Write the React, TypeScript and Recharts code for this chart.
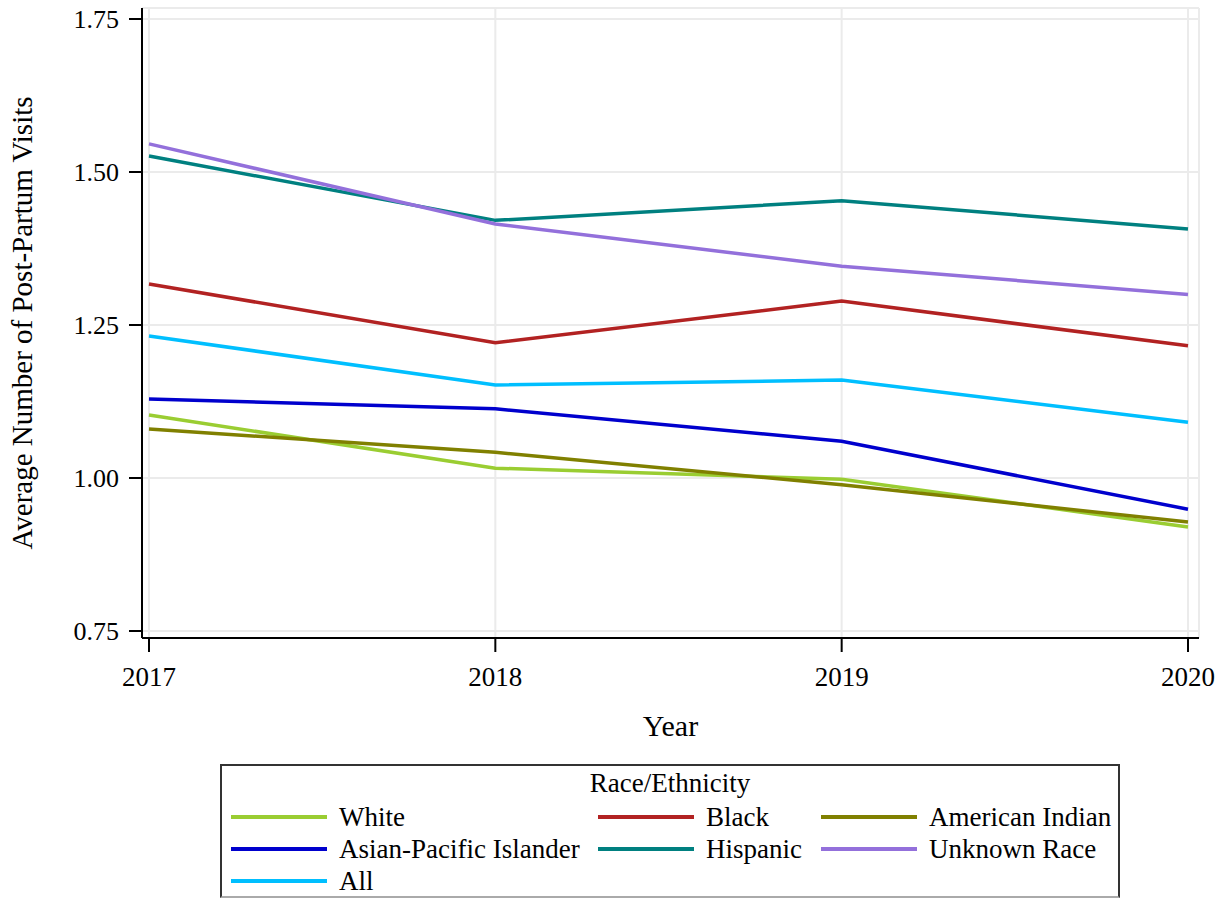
import React from "react";
import { LineChart, Line, XAxis, YAxis, CartesianGrid, Legend } from "recharts";

const years = ["2017", "2018", "2019", "2020"];
const white = [1.103, 1.016, 0.998, 0.92];
const black = [1.317, 1.221, 1.289, 1.216];
const americanIndian = [1.08, 1.042, 0.989, 0.928];
const asianPacific = [1.129, 1.113, 1.06, 0.949];
const hispanic = [1.526, 1.421, 1.453, 1.407];
const unknownRace = [1.546, 1.415, 1.346, 1.3];
const allRaces = [1.232, 1.152, 1.16, 1.091];
const yTicks = [0.75, 1.0, 1.25, 1.5, 1.75];

const series = [
  { key: "white", name: "White", color: "#9ACD32", values: white },
  { key: "black", name: "Black", color: "#B22222", values: black },
  { key: "americanIndian", name: "American Indian", color: "#808000", values: americanIndian },
  { key: "asianPacific", name: "Asian-Pacific Islander", color: "#0000CD", values: asianPacific },
  { key: "hispanic", name: "Hispanic", color: "#008080", values: hispanic },
  { key: "unknownRace", name: "Unknown Race", color: "#9370DB", values: unknownRace },
  { key: "all", name: "All", color: "#00BFFF", values: allRaces },
];

const rows = years.map((year, i) => {
  const row: Record<string, string | number> = { year };
  series.forEach((s) => {
    row[s.key] = s.values[i];
  });
  return row;
});

const FONT = '"Liberation Serif", "Times New Roman", Times, serif';

// legend grid: three columns, rows 32px apart
const colLeft = [9, 376, 599];
const rowMid = [53, 85, 117];

function RaceLegend() {
  return (
    <div
      style={{
        position: "relative",
        width: 900,
        height: 134,
        border: "2px solid #333",
        borderBottom: "2px solid #aaa",
        boxSizing: "border-box",
        fontFamily: FONT,
        fontSize: 27,
        color: "#000",
        background: "#fff",
      }}
    >
      <div style={{ position: "absolute", left: 0, right: 0, top: 2, textAlign: "center", lineHeight: "30px" }}>
        Race/Ethnicity
      </div>
      {series.map((s, i) => (
        <div
          key={s.key}
          style={{
            position: "absolute",
            left: colLeft[i % 3],
            top: rowMid[Math.floor(i / 3)] - 2 - 16,
            height: 32,
            display: "flex",
            alignItems: "center",
            whiteSpace: "nowrap",
          }}
        >
          <div style={{ width: 96, height: 4, background: s.color, marginRight: 12 }} />
          <span style={{ lineHeight: "32px" }}>{s.name}</span>
        </div>
      ))}
    </div>
  );
}

export default function App() {
  return (
    <div style={{ position: "absolute", left: 0, top: 0, background: "#fff", fontFamily: FONT }}>
      <LineChart
        width={1227}
        height={898}
        data={rows}
        margin={{ top: 8, right: 28, bottom: 0, left: 0 }}
        style={{ fontFamily: FONT }}
      >
        <CartesianGrid stroke="#ebebeb" strokeWidth={2} />
        <XAxis
          dataKey="year"
          padding={{ left: 7, right: 11 }}
          height={126}
          tick={{ fill: "#000", fontSize: 27, fontFamily: FONT }}
          tickLine={{ stroke: "#000", strokeWidth: 2 }}
          tickSize={14}
          tickMargin={15}
          axisLine={{ stroke: "#000", strokeWidth: 2 }}
          label={{
            value: "Year",
            position: "insideTop",
            offset: 77,
            fill: "#000",
            fontSize: 30,
            fontFamily: FONT,
          }}
        />
        <XAxis
          xAxisId="top"
          dataKey="year"
          orientation="top"
          height={0}
          tick={false}
          tickLine={false}
          axisLine={{ stroke: "#000", strokeWidth: 2 }}
        />
        <YAxis
          domain={[0.75, 1.75]}
          ticks={yTicks}
          width={142}
          padding={{ top: 11, bottom: 7 }}
          tick={{ fill: "#000", fontSize: 26, fontFamily: FONT }}
          tickFormatter={(v: number) => v.toFixed(2)}
          tickLine={{ stroke: "#000", strokeWidth: 2 }}
          tickSize={13}
          tickMargin={10}
          axisLine={{ stroke: "#000", strokeWidth: 2 }}
          label={{
            value: "Average Number of Post-Partum Visits",
            angle: -90,
            position: "insideLeft",
            offset: 22,
            style: { textAnchor: "middle", fontFamily: FONT },
            fill: "#000",
            fontSize: 29,
          }}
        />
        <YAxis
          yAxisId="right"
          orientation="right"
          width={0}
          domain={[0.75, 1.75]}
          tick={false}
          tickLine={false}
          axisLine={{ stroke: "#000", strokeWidth: 2 }}
        />
        <Legend
          content={() => <RaceLegend />}
          wrapperStyle={{ position: "absolute", left: 220, top: 764, width: 900, height: 134 }}
          verticalAlign="bottom"
        />
        {series.map((s) => (
          <Line
            key={s.key}
            type="linear"
            dataKey={s.key}
            name={s.name}
            stroke={s.color}
            strokeWidth={3.5}
            dot={false}
            activeDot={false}
            isAnimationActive={false}
          />
        ))}
      </LineChart>
    </div>
  );
}
